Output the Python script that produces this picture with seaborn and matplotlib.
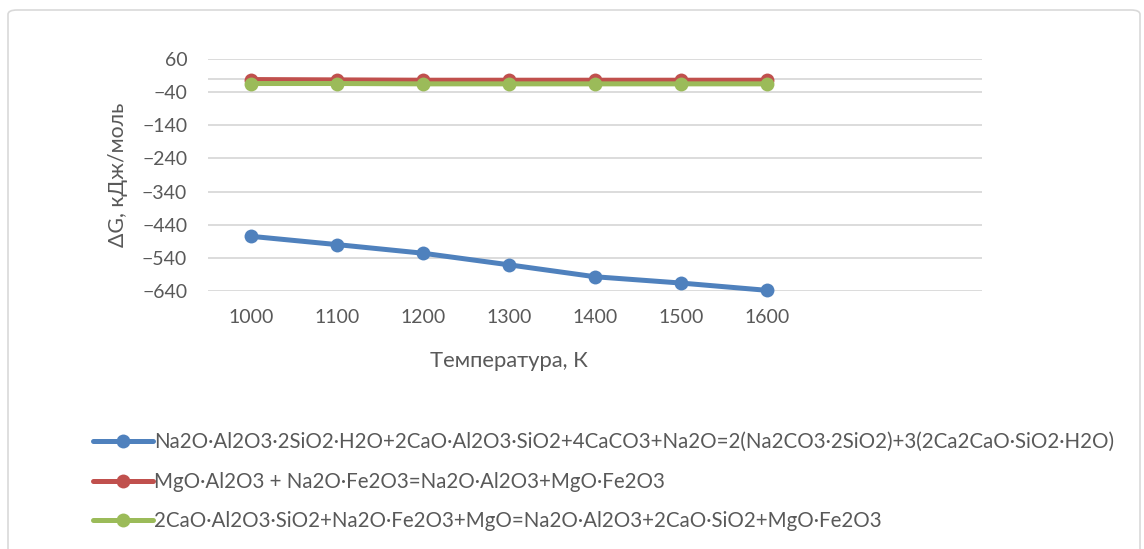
import pandas as pd
import numpy as np
import matplotlib
matplotlib.use('Agg')
import matplotlib.pyplot as plt
import seaborn as sns
from matplotlib.patches import FancyBboxPatch

# Data
temperatures = [1000, 1100, 1200, 1300, 1400, 1500, 1600]
dg_reaction1 = [-475, -500, -526, -561, -597, -616, -638]
dg_reaction2 = [-2, -3, -4, -4, -4, -4, -4]
dg_reaction3 = [-14, -14, -15, -15, -15, -15, -15]
labels = [
    'Na2O·Al2O3·2SiO2·H2O+2CaO·Al2O3·SiO2+4CaCO3+Na2O=2(Na2CO3·2SiO2)+3(2Ca2CaO·SiO2·H2O)',
    'MgO·Al2O3 + Na2O·Fe2O3=Na2O·Al2O3+MgO·Fe2O3',
    '2CaO·Al2O3·SiO2+Na2O·Fe2O3+MgO=Na2O·Al2O3+2CaO·SiO2+MgO·Fe2O3',
]
colors = ['#4F81BD', '#C0504D', '#9BBB59']
y_ticks = [60, -40, -140, -240, -340, -440, -540, -640]
n_slots = 9  # category axis has room for 9 slots, only 7 filled

sns.set_theme(style='white')
plt.rcParams['font.family'] = ['Lato', 'Open Sans', 'DejaVu Sans']
text_color = '#595959'

fig = plt.figure(figsize=(11.44, 5.49), dpi=100)
ax = fig.add_axes([208 / 1144, 1 - 291 / 549, 774 / 1144, 232 / 549])

# chart border (bottom edge is cut off in the reference)
fig.patches.append(FancyBboxPatch((8 / 1144, -0.05), 1132 / 1144, 1 - 10 / 549 + 0.05,
                                  boxstyle='round,pad=0,rounding_size=0.008',
                                  transform=fig.transFigure, facecolor='none',
                                  edgecolor='#D9D9D9', linewidth=1.2))

df = pd.DataFrame({
    'pos': list(range(len(temperatures))) * 3,
    'dG': dg_reaction1 + dg_reaction2 + dg_reaction3,
    'reaction': [labels[0]] * 7 + [labels[1]] * 7 + [labels[2]] * 7,
})

for lab, col in zip(labels, colors):
    sub = df[df['reaction'] == lab]
    sns.lineplot(data=sub, x='pos', y='dG', ax=ax, color=col, linewidth=3.6,
                 marker='o', markersize=10, markeredgewidth=0, label=lab,
                 solid_capstyle='round', clip_on=False)

ax.set_xlim(-0.5, n_slots - 0.5)
ax.set_ylim(-640, 60)
ax.set_yticks(y_ticks)
ax.set_xticks(range(len(temperatures)))
ax.set_xticklabels([str(t) for t in temperatures])
ax.grid(axis='y', color='#D9D9D9', linewidth=1.3)
ax.grid(axis='x', visible=False)
ax.axhline(0, color='#D9D9D9', linewidth=1.3, zorder=0)
for s in ax.spines.values():
    s.set_visible(False)
ax.tick_params(axis='both', length=0, labelsize=14, colors=text_color)
ax.tick_params(axis='y', pad=15)
ax.tick_params(axis='x', pad=13)
ax.set_xlabel('Температура, К', fontsize=15.8, color=text_color, labelpad=10)
ax.xaxis.set_label_coords((509 - 208) / 774, -0.26)
ax.set_ylabel('ΔG, кДж/моль', fontsize=15.3, color=text_color, labelpad=10)

handles, labs = ax.get_legend_handles_labels()
ax.get_legend().remove()
fig.legend(handles, labs, loc='upper left', bbox_to_anchor=(85 / 1144, 1 - 424 / 549),
           frameon=False, fontsize=14.8, labelcolor=text_color, handlelength=2.9,
           handletextpad=0.05, labelspacing=0.95, borderaxespad=0)

fig.savefig('out.png', dpi=100)
